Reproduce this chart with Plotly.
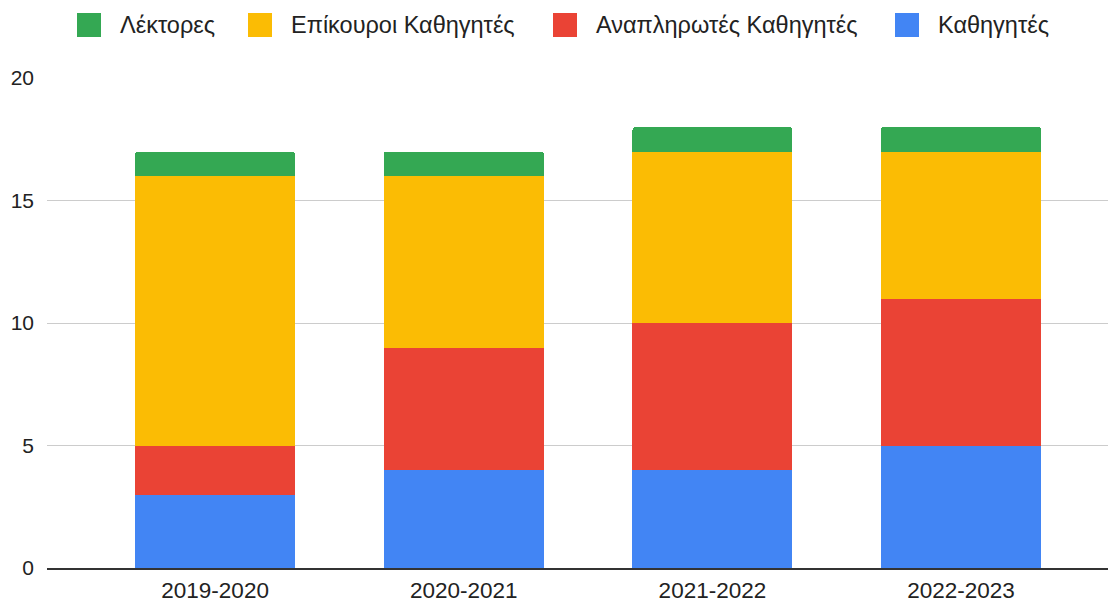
import plotly.graph_objects as go

# Academic years (x categories)
years = ["2019-2020", "2020-2021", "2021-2022", "2022-2023"]

# Staff counts per rank, bottom of the stack first
kathigites = [3, 4, 4, 5]
anaplirotes = [2, 5, 6, 6]
epikouroi = [11, 7, 7, 6]
lektores = [1, 1, 1, 1]

names = ["Καθηγητές", "Αναπληρωτές Καθηγητές", "Επίκουροι Καθηγητές", "Λέκτορες"]
colors = ["#4285F4", "#EA4335", "#FBBC04", "#34A853"]
values = [kathigites, anaplirotes, epikouroi, lektores]

# The page body has an 8px margin, so the figure is drawn a bit smaller
# and every pixel position below is given in screenshot coordinates.
OFF = 8
W, H = 1116 - OFF, 604 - OFF
L, R, T, B = 39, 0, 70, 36
PW, PH = W - L - R, H - T - B


def px(x):
    return (x - OFF - L) / PW


def py(y):
    return 1 - (y - OFF - T) / PH


fig = go.Figure()
for name, vals, color in zip(names, values, colors):
    fig.add_trace(go.Bar(
        x=years,
        y=vals,
        name=name,
        marker=dict(color=color, line=dict(width=0)),
        width=0.643,
        showlegend=False,
    ))

# Legend drawn by hand (Google-style large squares), left to right
legend_square_x = [895, 553, 248, 77]
legend_text_x = [936, 594, 289, 118]
shapes = []
annotations = []
for name, color, sx, tx in zip(names, colors, legend_square_x, legend_text_x):
    shapes.append(dict(
        type="rect", xref="paper", yref="paper",
        x0=px(sx), x1=px(sx + 24), y0=py(37), y1=py(13),
        fillcolor=color, line=dict(width=0), layer="above",
    ))
    annotations.append(dict(
        text=name, xref="paper", yref="paper",
        x=px(tx), y=py(25), xanchor="left", yanchor="middle",
        showarrow=False, font=dict(size=23.5, color="#222222"),
    ))

fig.update_layout(
    barmode="stack",
    barcornerradius=3,
    width=W,
    height=H,
    margin=dict(l=L, r=R, t=T, b=B, autoexpand=False),
    paper_bgcolor="white",
    plot_bgcolor="white",
    font=dict(family="Arial, Liberation Sans, sans-serif", size=21, color="#222222"),
    showlegend=False,
    shapes=shapes,
    annotations=annotations,
    xaxis=dict(
        range=[-0.676, 3.623],
        showline=True,
        linecolor="#333333",
        linewidth=1.5,
        showgrid=False,
        ticks="",
        ticklabelstandoff=1,
        tickfont=dict(size=22.5, color="#222222"),
    ),
    yaxis=dict(
        range=[0, 20],
        tickvals=[0, 5, 10, 15, 20],
        showgrid=True,
        gridcolor="#cccccc",
        gridwidth=1,
        zeroline=False,
        ticklabelstandoff=12,
        tickfont=dict(size=21, color="#222222"),
    ),
)

fig.write_html("out.html")
